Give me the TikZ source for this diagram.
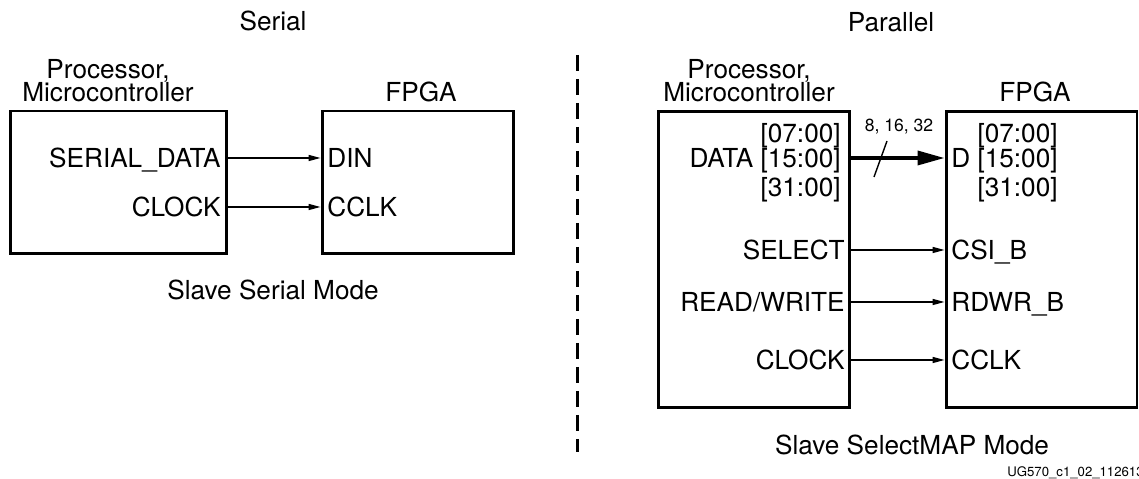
\documentclass[tikz,border=0pt]{standalone}
\usepackage{fontspec}
\setmainfont{TeX Gyre Heros}
\usetikzlibrary{arrows.meta}

\begin{document}
\begin{tikzpicture}[x=0.02cm, y=0.02cm,
	lbl/.style={font=\fontsize{14.9}{17}\selectfont, inner sep=0pt, text height=10.7pt, text depth=0pt},
	blk/.style={draw, line width=1.7pt, inner sep=0pt},
	sig/.style={-{Triangle[length=0.24cm,width=0.12cm]}, line width=0.8pt},
	bus/.style={-{Triangle[length=0.54cm,width=0.28cm]}, line width=2pt}]

	\useasboundingbox (0,0) rectangle (1139,479);

	% Serial side
	\node[lbl] (sertitle) at (273,458) {Serial};
	\node[blk, minimum width=4.34cm, minimum height=2.86cm] (proc1) at (118.5,296.5) {};
	\node[blk, minimum width=3.84cm, minimum height=2.86cm] (fpga1) at (418,296.5) {};
	\node[lbl] (proc1a) at (108,410) {Processor,};
	\node[lbl] (proc1b) at (108,387) {Microcontroller};
	\node[lbl] (fpga1t) at (421,387) {FPGA};

	\node[lbl, anchor=east] (sdata) at (221,321) {SERIAL\_DATA};
	\node[lbl, anchor=east] (sclk) at (221,272) {CLOCK};
	\node[lbl, anchor=west] (din) at (327,321) {DIN};
	\node[lbl, anchor=west] (cclk1) at (327,272) {CCLK};
	\draw[sig] (sdata -| proc1.east) -- (din -| fpga1.west);
	\draw[sig] (sclk -| proc1.east) -- (cclk1 -| fpga1.west);

	\node[lbl] (sermode) at (273,189) {Slave Serial Mode};

	% Trennlinie
	\draw[line width=1.7pt, dash pattern=on 0.32cm off 0.16cm] (577,424) -- (577,27);

	% Parallel side
	\node[lbl] (partitle) at (891,457) {Parallel};
	\node[blk, minimum width=3.84cm, minimum height=5.94cm] (proc2) at (754,219.5) {};
	\node[blk, minimum width=3.82cm, minimum height=5.94cm] (fpga2) at (1041.5,219.5) {};
	\node[lbl] (proc2a) at (749,410) {Processor,};
	\node[lbl] (proc2b) at (749,387) {Microcontroller};
	\node[lbl] (fpga2t) at (1035,387) {FPGA};

	\node[lbl, anchor=east] (pd07) at (841,346) {[07:00]};
	\node[lbl, anchor=east] (pd15) at (841,321) {DATA [15:00]};
	\node[lbl, anchor=east] (pd31) at (841,292) {[31:00]};
	\node[lbl, anchor=west] (fd15) at (951,321) {D [15:00]};
	\node[lbl, anchor=east] (fd07) at (fd15.east |- pd07) {[07:00]};
	\node[lbl, anchor=east] (fd31) at (fd15.east |- pd31) {[31:00]};

	\node[lbl, anchor=east] (psel) at (845,229) {SELECT};
	\node[lbl, anchor=east] (prw) at (845,177) {READ/WRITE};
	\node[lbl, anchor=east] (pclk) at (845,119) {CLOCK};
	\node[lbl, anchor=west] (csib) at (951,229) {CSI\_B};
	\node[lbl, anchor=west] (rdwrb) at (951,177) {RDWR\_B};
	\node[lbl, anchor=west] (cclk2) at (951,119) {CCLK};

	\draw[bus] (pd15 -| proc2.east) -- (fd15 -| fpga2.west);
	\draw[line width=0.8pt] (887,338) -- (874,302); % bus width slash
	\node[font=\fontsize{10}{12}\selectfont, inner sep=0pt] (buswidth) at (899,352) {8, 16, 32};
	\draw[sig] (psel -| proc2.east) -- (csib -| fpga2.west);
	\draw[sig] (prw -| proc2.east) -- (rdwrb -| fpga2.west);
	\draw[sig] (pclk -| proc2.east) -- (cclk2 -| fpga2.west);

	\node[lbl] (parmode) at (912,34) {Slave SelectMAP Mode};
	\node[font=\fontsize{7.5}{9}\selectfont, inner sep=0pt, anchor=base west] (figid) at (1007,2) {UG570\_c1\_02\_112613};

\end{tikzpicture}
\end{document}
